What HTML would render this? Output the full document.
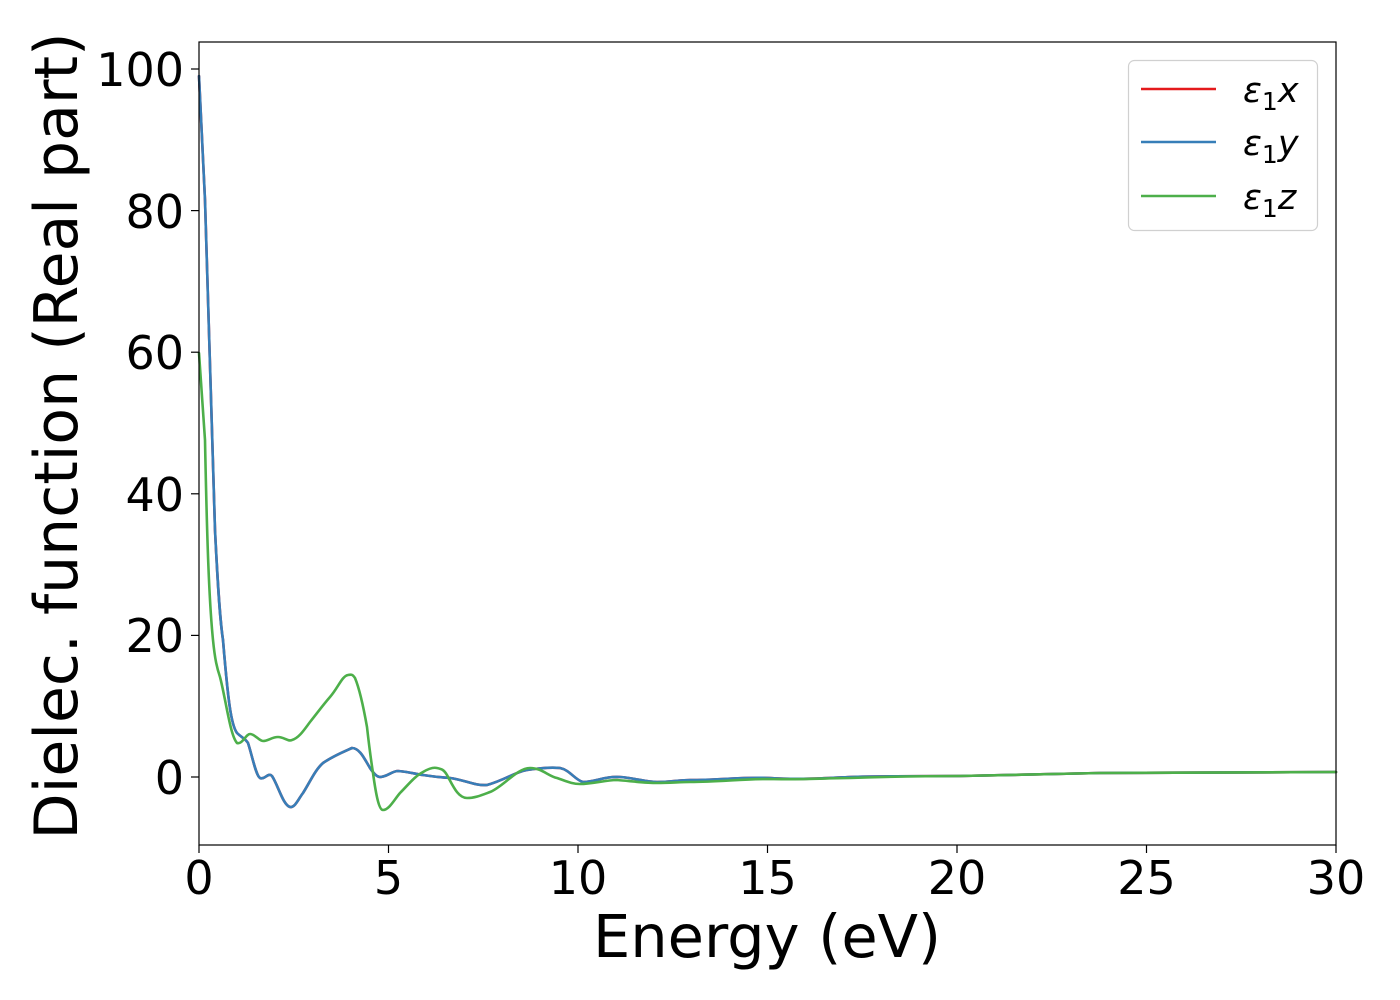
<!DOCTYPE html>
<html><head><meta charset="utf-8"><style>body{margin:0;background:#fff}svg{display:block}text{font-family:"DejaVu Sans","Liberation Sans",sans-serif;fill:#000}</style></head>
<body>
<svg width="1400" height="1000" viewBox="0 0 1400 1000">
<g fill="none" stroke-width="2.6" stroke-linejoin="round" stroke-linecap="round">
<path stroke="#e41a1c" d="M199,76 C201,120 203,160 205,200 C209,330 212,460 215,530 C218,590 220,620 223,640 C228,700 231,725 237,733 C242,738 245,738 248,743 C252,755 256,776 260,778 C265,780 268,772 272,776 C278,785 283,805 290,807 C295,808 299,798 303,793 C310,782 315,770 323,763 C333,756 343,752 352,748 C360,748 365,760 370,768 C374,774 377,777 380,777 C387,777 392,771 398,771 C410,772 415,774 423,775 C435,777 440,777 450,778 C465,780 475,786 487,785 C505,780 515,772 527,770 C540,768 550,767 560,768 C570,770 575,780 583,782 C595,782 605,776 620,777 C635,778 645,782 657,782 C670,782 680,780 690,780 C720,780 740,777 770,778 C800,780 830,778 850,777 C880,776 920,776 960,776 C1000,775 1050,774 1100,773 C1200,772 1280,772 1336,772"/>
<path stroke="#377eb8" d="M199,76 C201,120 203,160 205,200 C209,330 212,460 215,530 C218,590 220,620 223,640 C228,700 231,725 237,733 C242,738 245,738 248,743 C252,755 256,776 260,778 C265,780 268,772 272,776 C278,785 283,805 290,807 C295,808 299,798 303,793 C310,782 315,770 323,763 C333,756 343,752 352,748 C360,748 365,760 370,768 C374,774 377,777 380,777 C387,777 392,771 398,771 C410,772 415,774 423,775 C435,777 440,777 450,778 C465,780 475,786 487,785 C505,780 515,772 527,770 C540,768 550,767 560,768 C570,770 575,780 583,782 C595,782 605,776 620,777 C635,778 645,782 657,782 C670,782 680,780 690,780 C720,780 740,777 770,778 C800,780 830,778 850,777 C880,776 920,776 960,776 C1000,775 1050,774 1100,773 C1200,772 1280,772 1336,772"/>
<path stroke="#4daf4a" d="M199,353 C201,380 203,410 205,440 C207,540 209,600 213,640 C215,660 217,668 220,677 C226,700 230,735 237,743 C242,745 246,734 250,734 C255,734 259,741 263,741 C268,741 272,737 278,737 C284,737 288,742 292,740 C299,738 304,730 310,722 C318,712 323,705 330,697 C338,688 342,676 348,675 C352,674 353,675 355,678 C360,690 364,710 367,727 C369,745 371,760 373,773 C376,795 379,810 383,810 C389,810 394,800 400,793 C408,785 415,776 423,772 C428,769 433,767 437,768 C442,769 444,770 447,775 C453,786 458,798 467,798 C475,798 482,795 490,792 C503,787 517,768 530,768 C542,768 548,776 557,778 C566,781 572,784 580,784 C593,784 605,780 617,780 C630,781 645,783 657,783 C670,783 680,782 690,782 C720,782 740,779 770,779 C800,780 830,778 850,778 C880,777 920,776 960,776 C1000,775 1050,774 1100,773 C1200,772 1280,772 1336,772"/>
</g>
<rect x="199" y="42" width="1137" height="803" fill="none" stroke="#000" stroke-width="1.2"/>
<g stroke="#000" stroke-width="1.2">
<line x1="199" y1="845" x2="199" y2="853"/><line x1="388.5" y1="845" x2="388.5" y2="853"/><line x1="578" y1="845" x2="578" y2="853"/><line x1="767.5" y1="845" x2="767.5" y2="853"/><line x1="957" y1="845" x2="957" y2="853"/><line x1="1146.5" y1="845" x2="1146.5" y2="853"/><line x1="1336" y1="845" x2="1336" y2="853"/>
<line x1="191" y1="777" x2="199" y2="777"/><line x1="191" y1="635.4" x2="199" y2="635.4"/><line x1="191" y1="493.8" x2="199" y2="493.8"/><line x1="191" y1="352.2" x2="199" y2="352.2"/><line x1="191" y1="210.6" x2="199" y2="210.6"/><line x1="191" y1="69" x2="199" y2="69"/>
</g>
<g font-size="46" text-anchor="middle">
<text x="199" y="894">0</text><text x="388.5" y="894">5</text><text x="578" y="894">10</text><text x="767.5" y="894">15</text><text x="957" y="894">20</text><text x="1146.5" y="894">25</text><text x="1336" y="894">30</text>
</g>
<g font-size="46" text-anchor="end">
<text x="184" y="794">0</text><text x="184" y="652">20</text><text x="184" y="511">40</text><text x="184" y="369">60</text><text x="184" y="228">80</text><text x="184" y="86">100</text>
</g>
<text x="767" y="957" font-size="59" text-anchor="middle">Energy (eV)</text>
<text transform="translate(77,436) rotate(-90)" font-size="60" text-anchor="middle">Dielec. function (Real part)</text>
<rect x="1128.5" y="60.5" width="189" height="170" rx="6" fill="#fff" stroke="#d0d0d0" stroke-width="1.2"/>
<g stroke-width="2.6"><line x1="1141" y1="89" x2="1216" y2="89" stroke="#e41a1c"/><line x1="1141" y1="142" x2="1216" y2="142" stroke="#377eb8"/><line x1="1141" y1="196" x2="1216" y2="196" stroke="#4daf4a"/></g>
<g font-size="35" font-style="italic">
<text x="1243" y="102">ε<tspan font-style="normal" font-size="25" dy="8">1</tspan><tspan dy="-8">x</tspan></text>
<text x="1243" y="155">ε<tspan font-style="normal" font-size="25" dy="8">1</tspan><tspan dy="-8">y</tspan></text>
<text x="1243" y="209">ε<tspan font-style="normal" font-size="25" dy="8">1</tspan><tspan dy="-8">z</tspan></text>
</g>
</svg>
</body></html>
